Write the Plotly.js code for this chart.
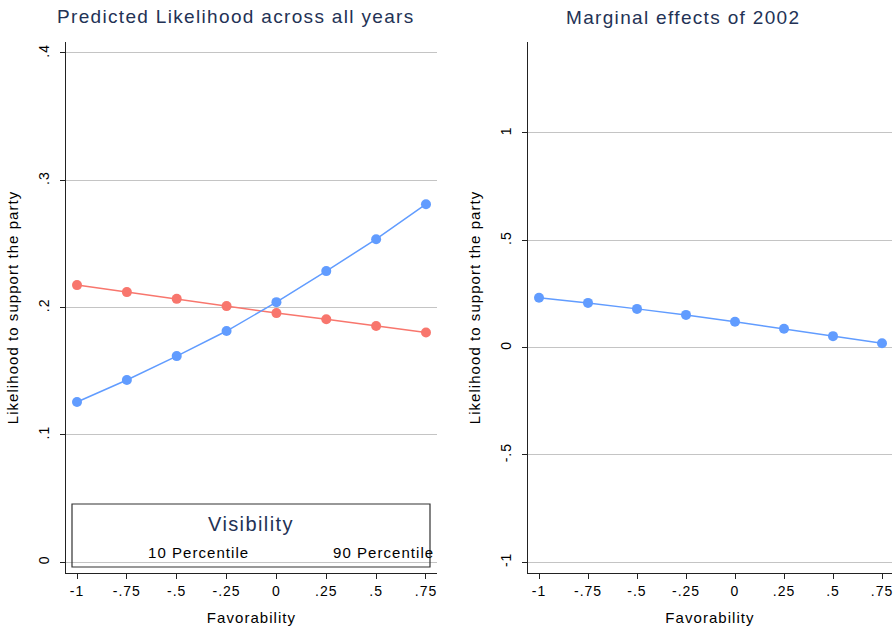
<!DOCTYPE html>
<html><head><meta charset="utf-8">
<script src="https://cdn.plot.ly/plotly-3.0.1.min.js"></script>
<style>
html,body{margin:0;padding:0;background:#fff;}
#chart{width:896px;height:637px;}
text{letter-spacing:0.07em;}
</style></head><body><div id="chart"></div>
<script>
// ---- data ----
const favorability = [-1, -0.75, -0.5, -0.25, 0, 0.25, 0.5, 0.75];
const xTickLabels = ["-1", "-.75", "-.5", "-.25", "0", ".25", ".5", ".75"];
const pct10 = [0.2176, 0.2121, 0.2068, 0.2011, 0.1956, 0.1907, 0.1854, 0.1804];
const pct90 = [0.1257, 0.1430, 0.1618, 0.1815, 0.2042, 0.2286, 0.2537, 0.2812];
const marginal2002 = [0.232, 0.208, 0.180, 0.152, 0.120, 0.087, 0.053, 0.020];
const leftYTicks = [0, 0.1, 0.2, 0.3, 0.4];
const leftYLabels = ["0", ".1", ".2", ".3", ".4"];
const rightYTicks = [-1, -0.5, 0, 0.5, 1];
const rightYLabels = ["-1", "-.5", "0", ".5", "1"];
const seriesNames = ["10 Percentile", "90 Percentile"];
const legendTitle = "Visibility";
const titleLeft = "Predicted Likelihood across all years";
const titleRight = "Marginal effects of 2002";
const xTitle = "Favorability";
const yTitle = "Likelihood to support the party";

// ---- style ----
const RED = "#F8766D", BLUE = "#619CFF", NAVY = "#233255";
const FONT = "Liberation Sans, Arial, sans-serif";

function line(x, y, color, name, xa, ya) {
  return {x: x, y: y, type: "scatter", mode: "lines+markers", name: name,
    xaxis: xa, yaxis: ya, showlegend: false,
    line: {color: color, width: 1.5}, marker: {color: color, size: 10}};
}
const traces = [
  line(favorability, pct10, RED, seriesNames[0], "x", "y"),
  line(favorability, pct90, BLUE, seriesNames[1], "x", "y"),
  line(favorability, marginal2002, BLUE, "2002", "x2", "y2")
];

const base = {showline: true, linecolor: "#222", linewidth: 1, ticks: "outside",
  ticklen: 5, tickcolor: "#222", tickwidth: 1, zeroline: false, fixedrange: true,
  tickfont: {family: FONT, size: 14, color: "#000"}, automargin: false};
const yDom = [1 - 573/637, 1 - 42/637];
function xax(dom, range, anchor) {
  return Object.assign({}, base, {domain: dom, range: range, anchor: anchor,
    showgrid: false, tickmode: "array", tickvals: favorability, ticktext: xTickLabels,
    title: {text: xTitle, font: {family: FONT, size: 15, color: "#000"}, standoff: 14}});
}
function yax(range, anchor, vals, labels) {
  return Object.assign({}, base, {domain: yDom, range: range, anchor: anchor,
    showgrid: true, gridcolor: "#c4c4c4", gridwidth: 1, tickangle: -90,
    ticklabelstandoff: 5,
    tickmode: "array", tickvals: vals, ticktext: labels,
    title: {text: yTitle, font: {family: FONT, size: 15, color: "#000"}, standoff: 14}});
}

const layout = {
  width: 896, height: 637, margin: {l: 0, r: 0, t: 0, b: 0},
  paper_bgcolor: "#fff", plot_bgcolor: "#fff", showlegend: false,
  font: {family: FONT},
  xaxis: xax([66/896, 437/896], [-1.0552, 0.8052], "y"),
  yaxis: yax([-0.00864, 0.40864], "x", leftYTicks, leftYLabels),
  xaxis2: xax([528/896, 892/896], [-1.0561, 0.801], "y2"),
  yaxis2: yax([-1.0513, 1.4242], "x2", rightYTicks, rightYLabels),
  shapes: [
    {type: "rect", xref: "paper", yref: "paper", x0: 72/896, x1: 430/896,
     y0: 1 - 567/637, y1: 1 - 504/637, line: {color: "#333", width: 1.2},
     fillcolor: "rgba(0,0,0,0)", layer: "above"}
  ],
  annotations: [
    {text: titleLeft, xref: "paper", yref: "paper", x: 236/896, y: 1 - 17/637,
     xanchor: "center", yanchor: "middle", showarrow: false,
     font: {family: FONT, size: 19, color: NAVY}},
    {text: titleRight, xref: "paper", yref: "paper", x: 683/896, y: 1 - 18/637,
     xanchor: "center", yanchor: "middle", showarrow: false,
     font: {family: FONT, size: 19, color: NAVY}},
    {text: legendTitle, xref: "paper", yref: "paper", x: 251/896, y: 1 - 524/637,
     xanchor: "center", yanchor: "middle", showarrow: false,
     font: {family: FONT, size: 20, color: NAVY}},
    {text: seriesNames[0], xref: "paper", yref: "paper", x: 198/896, y: 1 - 552/637,
     xanchor: "center", yanchor: "middle", showarrow: false,
     font: {family: FONT, size: 15, color: "#000"}},
    {text: seriesNames[1], xref: "paper", yref: "paper", x: 383/896, y: 1 - 552/637,
     xanchor: "center", yanchor: "middle", showarrow: false,
     font: {family: FONT, size: 15, color: "#000"}}
  ]
};

Plotly.newPlot("chart", traces, layout, {staticPlot: true, displayModeBar: false});
</script></body></html>
